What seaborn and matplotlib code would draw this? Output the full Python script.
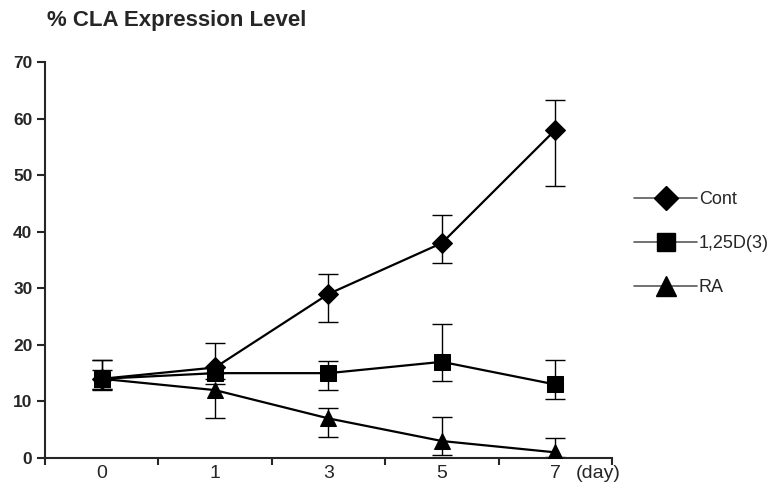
import numpy as np
import pandas as pd
import matplotlib
matplotlib.use("Agg")
import matplotlib.pyplot as plt
from matplotlib.lines import Line2D
import seaborn as sns

# values
days = ["0", "1", "3", "5", "7"]
groups = ["Cont", "1,25D(3)", "RA"]
cont_mean = [14, 16, 29, 38, 58]
cont_low = [12.2, 15.0, 24.1, 34.4, 48.0]
cont_high = [17.3, 20.4, 32.6, 42.9, 63.3]
d3_mean = [14, 15, 15, 17, 13]
d3_low = [12.1, 14.0, 12.1, 13.6, 10.4]
d3_high = [17.3, 16.0, 17.2, 23.7, 17.3]
ra_mean = [14, 12, 7, 3, 1]
ra_low = [12.2, 7.0, 3.7, 0.5, 0.2]
ra_high = [15.5, 13.0, 8.8, 7.2, 3.6]

means = {"Cont": cont_mean, "1,25D(3)": d3_mean, "RA": ra_mean}
lows = {"Cont": cont_low, "1,25D(3)": d3_low, "RA": ra_low}
highs = {"Cont": cont_high, "1,25D(3)": d3_high, "RA": ra_high}
markers = {"Cont": "D", "1,25D(3)": "s", "RA": "^"}
msizes = {"Cont": 10, "1,25D(3)": 11.5, "RA": 12}

pos = np.arange(len(days))
df = pd.concat([pd.DataFrame({"pos": pos, "value": means[g], "group": g}) for g in groups])

sns.set_style("ticks")
plt.rcParams["font.family"] = ["Liberation Sans", "DejaVu Sans"]

fig = plt.figure(figsize=(7.81, 4.91), dpi=100)
ax = fig.add_axes([0.0576, 0.0672, 0.726, 0.8065])

# error bars first so markers sit on top
for g in groups:
    m = np.array(means[g])
    err = [m - np.array(lows[g]), np.array(highs[g]) - m]
    ax.errorbar(pos, m, yerr=err, fmt="none", ecolor="black", elinewidth=1.0,
                capsize=7, capthick=1.0, zorder=2)

for g in groups:
    sub = df[df["group"] == g]
    sns.lineplot(data=sub, x="pos", y="value", ax=ax, color="black", lw=1.6,
                 marker=markers[g], markersize=msizes[g], markeredgecolor="black",
                 markerfacecolor="black", legend=False, zorder=3)

ax.set_xlim(-0.5, len(days) - 0.5)
ax.set_ylim(0, 70)
ax.set_yticks(range(0, 71, 10))
ax.set_xticks(np.arange(-0.5, len(days), 1.0))
ax.set_xticklabels([])
ax.set_xticks(pos, minor=True)
ax.set_xticklabels(days, minor=True)
ax.tick_params(axis="x", which="minor", length=0, pad=5, labelsize=14)
ax.tick_params(axis="x", which="major", length=5, width=1.5, direction="out")
ax.tick_params(axis="y", length=6, width=1.5, direction="out", labelsize=12.5, pad=3)
for lab in ax.get_yticklabels():
    lab.set_fontweight("bold")
ax.set_xlabel("")
ax.set_ylabel("")
for s in ["top", "right"]:
    ax.spines[s].set_visible(False)
for s in ["left", "bottom"]:
    ax.spines[s].set_linewidth(1.5)

ax.text(0.936, -0.038, "(day)", transform=ax.transAxes, ha="left", va="center", fontsize=14)
fig.text(0.060, 0.959, "% CLA Expression Level", fontsize=16, fontweight="bold",
         ha="left", va="center")

handles = [Line2D([0], [0], color="0.35", lw=1.2, marker=markers[g], markersize=msizes[g] + 2,
                  markerfacecolor="black", markeredgecolor="black") for g in groups]
ax.legend(handles, groups, loc="upper left", bbox_to_anchor=(1.01, 0.715), frameon=False,
          fontsize=13, handlelength=3.5, handletextpad=0.1, labelspacing=1.5)

fig.savefig("out.png", dpi=100)
